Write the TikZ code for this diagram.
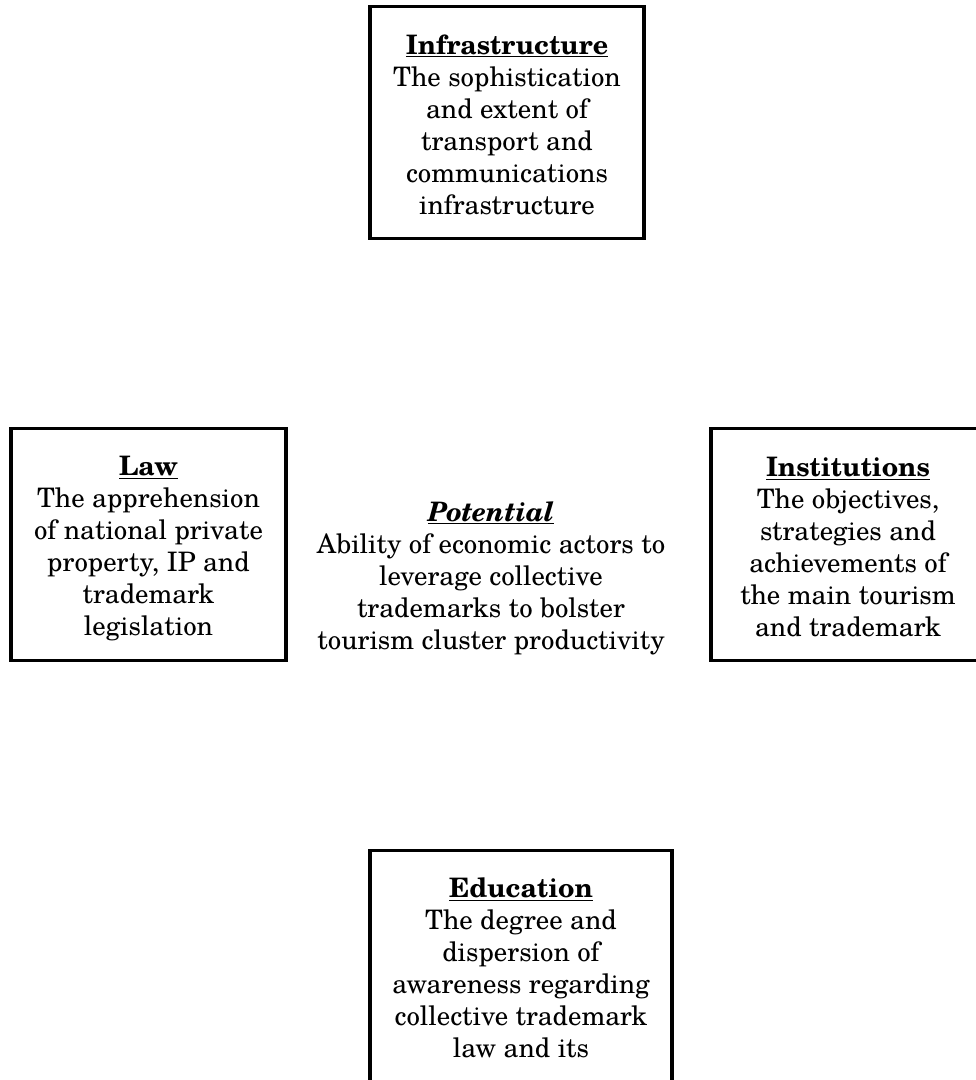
\documentclass[tikz,border=0pt]{standalone}
\usepackage{fontspec}
\setmainfont{texgyreschola}[Extension=.otf, UprightFont=*-regular, BoldFont=*-bold, ItalicFont=*-italic, BoldItalicFont=*-bolditalic]
\begin{document}
\begin{tikzpicture}[x=1pt,y=-1pt,
  txt/.style={align=center, inner sep=0pt, font=\fontsize{26.8}{32}\selectfont},
  factorbox/.style={draw=black, line width=3.2pt, minimum height=232pt, inner sep=0pt}]
\useasboundingbox (0,0) rectangle (976,1080);
\clip (0,0) rectangle (976,1080);
% boxes
\node[factorbox, minimum width=274pt] (infra) at (507,122.6) {};
\node[factorbox, minimum width=275pt] (law) at (148.5,544.5) {};
\node[factorbox, minimum width=274pt] (inst) at (848,544.5) {};
\node[factorbox, minimum width=302pt] (edu) at (521,966.8) {};
% texts
\node[txt] (infratext) at ([yshift=-2.5pt]infra.center)
  {\underline{\textbf{Infrastructure}}\\The sophistication\\and extent of\\transport and\\communications\\infrastructure};
\node[txt] (lawtext) at ([yshift=-4.5pt]law.center)
  {\underline{\textbf{Law}}\\The apprehension\\of national private\\property, IP and\\trademark\\legislation};
\node[txt] (insttext) at ([yshift=-3pt]inst.center)
  {\underline{\textbf{Institutions}}\\The objectives,\\strategies and\\achievements of\\the main tourism\\and trademark};
\node[txt] (edutext) at ([yshift=-1.5pt]edu.center)
  {\underline{\textbf{Education}}\\The degree and\\dispersion of\\awareness regarding\\collective trademark\\law and its};
\node[txt] (pot) at (491,578)
  {\underline{\textbf{\textit{Potential}}}\\Ability of economic actors to\\leverage collective\\trademarks to bolster\\tourism cluster productivity};
\end{tikzpicture}
\end{document}
